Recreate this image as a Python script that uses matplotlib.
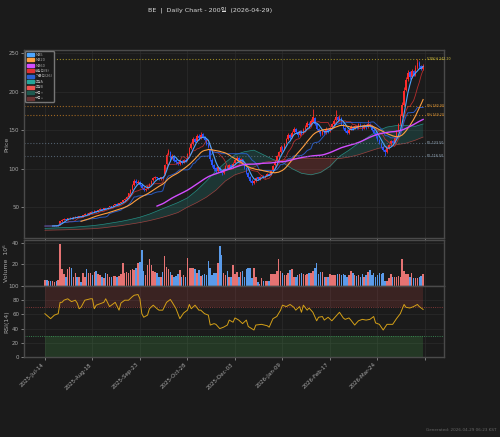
import numpy as np
import pandas as pd
import matplotlib
matplotlib.use("Agg")
import matplotlib.pyplot as plt
from matplotlib.patches import Patch

# Latin text in DejaVu, Korean falls back to Noto CJK
plt.rcParams['font.family'] = ['DejaVu Sans', 'Noto Sans CJK KR']

ticker = "BE"
asof = "2026-04-29"
date_labels = ['2025-Jul-14', '2025-Aug-18', '2025-Sep-23', '2025-Oct-28',
               '2025-Dec-03', '2026-Jan-09', '2026-Feb-17', '2026-Mar-24']

# daily OHLC, 200 sessions
opens = [
    25.3, 25.7, 25.3, 25.9, 25.3, 25.8, 26.2, 25.8, 27.2, 31.8,
    33.4, 34.6, 33.9, 35.7, 36.3, 35.2, 36.9, 37.6, 37.0, 38.3,
    37.8, 39.6, 41.3, 40.6, 42.9, 44.3, 43.4, 45.1, 44.5, 46.3,
    47.6, 46.9, 48.4, 47.8, 49.6, 51.3, 50.5, 52.7, 53.9, 53.1,
    55.3, 56.5, 59.1, 60.9, 63.8, 68.1, 72.8, 78.9, 84.6, 81.2,
    82.6, 78.8, 74.9, 72.3, 74.1, 77.2, 80.6, 84.8, 87.5, 88.8,
    87.6, 86.4, 89.1, 92.5, 105.8, 119.1, 121.4, 113.8, 116.5, 110.6,
    108.7, 106.6, 110.1, 107.8, 111.5, 111.0, 119.2, 127.1, 132.4, 138.9,
    135.8, 142.9, 139.8, 144.5, 141.0, 137.6, 132.9, 124.5, 110.8, 104.2,
    100.2, 97.5, 101.2, 97.1, 94.8, 99.9, 103.4, 101.0, 104.8, 102.4,
    106.8, 111.2, 113.9, 109.1, 112.1, 105.4, 101.0, 94.3, 89.5, 84.6,
    81.8, 83.9, 88.6, 86.3, 89.9, 91.0, 88.7, 91.0, 93.6, 92.4,
    97.9, 104.1, 109.6, 116.8, 121.9, 128.1, 125.0, 132.3, 138.5, 143.2,
    140.5, 147.1, 151.0, 147.6, 143.8, 149.2, 145.5, 150.9, 154.6, 158.5,
    156.5, 160.8, 166.1, 158.0, 151.5, 148.4, 144.9, 149.5, 146.3, 151.6,
    148.8, 153.5, 157.9, 162.6, 167.1, 163.4, 165.6, 158.1, 152.4, 149.5,
    146.5, 150.8, 154.4, 152.0, 155.9, 153.3, 157.2, 154.6, 152.5, 156.3,
    153.9, 158.5, 155.2, 150.1, 146.4, 141.5, 137.8, 133.4, 128.3, 124.4,
    122.1, 126.8, 131.5, 136.1, 133.6, 140.2, 148.6, 157.9, 168.5, 183.2,
    202.1, 216.2, 224.8, 218.9, 226.8, 221.5, 230.9, 237.1, 233.8, 229.9,
]
highs = [
    26.0, 25.9, 26.2, 26.0, 26.1, 26.5, 26.3, 26.7, 32.6, 34.1,
    35.3, 35.0, 36.2, 37.0, 36.6, 37.4, 38.1, 37.9, 38.9, 38.6,
    40.1, 42.0, 41.8, 43.5, 44.9, 44.6, 45.8, 45.6, 46.9, 48.4,
    48.1, 49.0, 48.9, 50.1, 52.0, 51.9, 53.4, 54.6, 54.8, 55.9,
    57.3, 59.8, 61.9, 64.6, 68.9, 73.8, 80.2, 86.5, 86.2, 84.8,
    83.4, 79.5, 75.8, 75.1, 77.8, 81.3, 85.6, 88.9, 90.2, 89.6,
    88.5, 89.8, 90.2, 106.3, 120.4, 126.1, 122.8, 119.2, 117.4, 112.3,
    110.2, 111.4, 111.3, 112.9, 113.2, 120.1, 128.4, 134.2, 141.6, 140.3,
    145.3, 144.8, 147.2, 146.3, 142.5, 139.2, 134.6, 126.1, 113.5, 106.3,
    101.8, 103.2, 102.6, 98.4, 101.3, 105.1, 104.6, 106.2, 106.3, 108.1,
    112.6, 115.9, 114.8, 114.2, 113.0, 106.9, 102.3, 95.8, 90.6, 86.1,
    85.2, 89.6, 89.3, 90.8, 92.4, 91.8, 91.6, 94.5, 94.8, 98.6,
    105.2, 110.8, 118.1, 123.4, 131.2, 129.5, 133.6, 140.1, 146.3, 144.8,
    148.6, 153.9, 152.4, 148.9, 150.7, 150.3, 152.8, 156.1, 161.5, 160.2,
    164.2, 177.2, 167.3, 159.4, 153.1, 150.2, 151.6, 150.4, 153.7, 152.8,
    154.6, 159.3, 164.1, 176.4, 168.5, 169.2, 166.8, 159.6, 154.1, 151.2,
    152.3, 156.1, 155.7, 157.2, 157.1, 159.3, 158.6, 156.4, 158.2, 157.4,
    163.5, 159.8, 156.3, 151.4, 147.6, 143.2, 139.1, 134.5, 129.6, 125.7,
    127.8, 132.6, 137.4, 137.2, 141.3, 150.1, 159.8, 171.4, 186.2, 205.6,
    219.4, 228.6, 226.1, 229.3, 228.2, 234.6, 242.2, 239.5, 235.1, 235.8,
]
lows = [
    25.0, 25.0, 25.1, 25.2, 25.1, 25.6, 25.5, 25.6, 27.0, 31.2,
    33.0, 33.4, 33.6, 35.2, 35.0, 35.0, 36.5, 36.5, 36.8, 37.2,
    37.5, 39.2, 40.1, 40.2, 42.5, 42.8, 43.1, 43.9, 44.2, 45.9,
    46.2, 46.5, 47.1, 47.4, 49.2, 49.8, 50.1, 52.3, 52.4, 52.8,
    54.9, 56.1, 58.4, 60.3, 63.1, 67.4, 72.1, 77.8, 80.4, 80.1,
    77.2, 73.6, 70.8, 71.5, 73.4, 76.5, 80.1, 84.1, 86.3, 86.2,
    85.1, 85.8, 86.4, 91.8, 104.2, 117.3, 111.6, 112.4, 108.6, 106.1,
    104.8, 105.2, 106.1, 106.9, 108.7, 110.2, 117.6, 125.8, 130.9, 133.1,
    134.6, 137.5, 138.6, 139.5, 135.9, 130.8, 126.5, 110.4, 101.8, 96.4,
    94.5, 95.8, 95.6, 91.7, 93.5, 98.6, 99.2, 99.8, 100.6, 101.3,
    105.9, 109.8, 107.6, 107.9, 104.6, 99.8, 93.2, 88.1, 82.6, 79.4,
    80.3, 83.1, 85.2, 85.6, 89.1, 87.6, 87.9, 90.2, 91.2, 92.0,
    97.2, 103.2, 108.7, 115.6, 120.8, 122.9, 124.1, 131.5, 137.4, 138.2,
    139.8, 145.8, 145.9, 141.6, 142.7, 143.8, 144.9, 149.6, 153.8, 154.3,
    155.6, 160.8, 156.9, 150.2, 146.5, 142.8, 143.6, 144.8, 145.5, 146.9,
    147.6, 152.4, 156.8, 161.5, 161.7, 162.3, 157.2, 150.9, 147.8, 145.3,
    145.2, 149.6, 150.2, 150.9, 151.8, 152.1, 153.5, 150.8, 151.4, 152.1,
    152.8, 154.1, 149.2, 144.8, 140.3, 136.1, 131.6, 126.9, 122.4, 116.5,
    120.9, 125.7, 130.8, 131.9, 132.8, 139.5, 147.3, 156.8, 167.2, 181.9,
    200.4, 213.8, 216.2, 217.5, 219.6, 220.8, 229.6, 231.2, 227.4, 228.3,
]
closes = [
    25.6, 25.2, 25.9, 25.4, 25.8, 26.1, 25.7, 26.3, 31.5, 33.2,
    34.5, 33.8, 35.6, 36.2, 35.4, 36.8, 37.5, 36.9, 38.2, 37.6,
    39.4, 41.2, 40.5, 42.8, 44.1, 43.2, 45.0, 44.3, 46.2, 47.5,
    46.8, 48.3, 47.6, 49.4, 51.2, 50.3, 52.6, 53.8, 52.9, 55.1,
    56.4, 58.9, 60.7, 63.5, 67.8, 72.4, 78.6, 84.1, 81.5, 82.9,
    78.5, 74.6, 72.1, 73.8, 76.9, 80.2, 84.5, 87.3, 88.6, 87.4,
    86.2, 88.9, 87.5, 104.6, 118.3, 122.7, 113.5, 116.8, 110.2, 108.4,
    106.3, 109.8, 107.5, 111.2, 110.4, 118.6, 126.3, 131.8, 138.5, 135.2,
    142.6, 139.4, 144.1, 141.3, 137.8, 132.5, 128.1, 112.3, 104.6, 99.8,
    97.2, 101.5, 96.8, 94.3, 99.6, 103.2, 100.8, 104.5, 102.1, 106.4,
    110.8, 113.6, 108.9, 112.4, 105.7, 101.3, 94.6, 89.8, 84.2, 81.5,
    83.6, 88.4, 86.1, 89.7, 91.2, 88.5, 90.8, 93.4, 92.1, 97.5,
    103.8, 109.2, 116.5, 121.3, 128.4, 124.7, 131.9, 138.2, 143.6, 140.1,
    146.8, 151.2, 147.3, 143.5, 148.9, 145.2, 150.6, 154.3, 158.7, 156.2,
    161.8, 166.4, 158.3, 151.7, 148.2, 144.6, 149.3, 146.1, 151.8, 148.5,
    153.2, 157.6, 162.4, 166.8, 163.1, 165.9, 158.4, 152.7, 149.3, 146.8,
    150.5, 154.2, 151.8, 155.6, 153.1, 157.4, 154.8, 152.3, 156.1, 153.6,
    158.2, 155.4, 150.3, 146.2, 141.8, 137.5, 133.2, 128.6, 124.1, 121.8,
    126.5, 131.2, 135.8, 133.4, 139.7, 148.3, 157.6, 168.2, 182.5, 201.3,
    215.6, 224.3, 218.7, 226.4, 221.2, 230.5, 236.8, 233.4, 229.7, 232.6,
]
# volume in millions
volumes = [
    6, 6, 5, 5, 5, 4, 5, 6, 39, 16,
    11, 8, 16, 18, 17, 8, 12, 8, 8, 4,
    12, 8, 16, 12, 12, 10, 13, 14, 11, 10,
    8, 7, 12, 11, 8, 8, 9, 9, 8, 9,
    11, 21, 12, 13, 12, 15, 16, 15, 17, 21,
    22, 33, 14, 10, 19, 25, 19, 14, 13, 12,
    8, 8, 13, 28, 18, 16, 13, 10, 8, 9,
    11, 15, 8, 10, 8, 26, 17, 17, 17, 16,
    12, 15, 9, 10, 11, 10, 23, 17, 10, 12,
    12, 21, 37, 29, 12, 10, 14, 8, 8, 19,
    11, 13, 8, 13, 14, 8, 16, 17, 17, 7,
    17, 8, 4, 2, 7, 5, 5, 5, 5, 11,
    11, 11, 14, 25, 14, 12, 10, 10, 12, 15,
    16, 8, 8, 10, 11, 12, 11, 10, 11, 12,
    12, 14, 17, 21, 11, 13, 13, 8, 8, 8,
    11, 10, 10, 10, 11, 11, 10, 11, 10, 8,
    10, 14, 12, 10, 9, 10, 8, 11, 8, 10,
    13, 15, 10, 12, 8, 10, 12, 11, 12, 5,
    5, 7, 11, 8, 8, 8, 9, 8, 25, 14,
    11, 11, 8, 12, 7, 7, 7, 8, 9, 11,
]

# ichimoku leading spans
cloud_bars = [0, 5, 10, 15, 20, 25, 30, 35, 40, 45, 50, 55, 60, 65, 70, 75, 80, 85, 90, 95,
              100, 105, 110, 115, 120, 125, 130, 135, 140, 145, 150, 155, 160, 165, 170, 175,
              180, 185, 190, 195, 199]
span_a = [22.5, 23.0, 23.5, 24.0, 25.0, 26.0, 27.5, 29.5, 31.5, 34.0, 37.0, 41.0, 46.0, 51.0,
          56.0, 62.0, 72.0, 84.0, 97.0, 108.0, 118.0, 122.0, 124.0, 118.0, 112.0, 108.0, 100.0,
          94.0, 92.0, 95.0, 103.0, 116.0, 124.0, 133.0, 141.0, 149.0, 154.0, 156.0, 156.0,
          155.0, 158.0]
span_b = [20.0, 20.3, 20.6, 21.0, 21.5, 22.0, 23.0, 24.5, 26.0, 28.0, 30.0, 32.5, 35.5, 39.0,
          43.0, 50.0, 56.0, 63.0, 72.0, 84.0, 92.0, 96.0, 102.0, 108.0, 110.0, 111.0, 113.0,
          113.0, 113.0, 113.0, 113.0, 113.0, 115.0, 118.0, 122.0, 126.0, 129.0, 131.0, 133.0,
          137.0, 141.0]

# RSI(14)
rsi_bars = [0, 3, 5, 7, 8, 9, 10, 12, 14, 16, 17, 18, 19, 21, 24, 25, 26, 27, 29, 31, 32, 34,
            36, 37, 39, 40, 42, 44, 46, 47, 49, 50, 51, 52, 54, 55, 57, 59, 60, 62, 64, 66, 67,
            69, 71, 73, 75, 76, 77, 79, 81, 82, 84, 86, 87, 89, 90, 92, 94, 96, 97, 99, 100,
            102, 104, 106, 107, 110, 111, 114, 117, 118, 120, 122, 124, 125, 127, 129, 131,
            132, 134, 135, 136, 138, 139, 141, 143, 144, 146, 147, 149, 151, 153, 155, 157,
            158, 160, 161, 163, 165, 167, 169, 171, 173, 174, 176, 178, 180, 182, 183, 185,
            187, 189, 190, 192, 194, 196, 197, 199]
rsi_values = [61, 54, 59, 61, 77, 77, 80, 82, 78, 80, 76, 68, 70, 80, 82, 82, 68, 73, 75, 77,
              82, 71, 75, 77, 66, 76, 80, 80, 85, 87, 88, 82, 61, 56, 59, 68, 73, 68, 66, 66,
              77, 81, 77, 68, 54, 62, 66, 74, 68, 73, 66, 66, 61, 59, 45, 47, 46, 40, 42, 45,
              52, 49, 55, 52, 47, 52, 43, 38, 45, 46, 44, 42, 54, 57, 66, 73, 71, 74, 70, 66,
              71, 63, 73, 66, 69, 63, 51, 56, 57, 52, 56, 51, 57, 63, 55, 53, 55, 52, 45, 51,
              53, 52, 53, 57, 48, 46, 38, 46, 46, 46, 54, 61, 74, 70, 69, 71, 74, 71, 67]

# key levels shown on the price panel
level_values = [242.6, 181.2, 169.5, 133.5, 117.0]
level_texts = ['52W H 242.20', 'PH 180.90', 'PH 169.20', 'PL 133.50', 'PL 116.50']

BG = '#1b1b1b'
UP = '#ff2a2a'
DOWN = '#2a55ff'
GRID = '#2c2c2c'
TXT = '#a8a8a8'

df = pd.DataFrame({'open': opens, 'high': highs, 'low': lows, 'close': closes, 'volume': volumes})
x = np.arange(len(df))
up = (df['close'] >= df['open']).values

ma5 = df['close'].rolling(5).mean()
ma20 = df['close'].rolling(20).mean()
ma60 = df['close'].rolling(60).mean()
tenkan = (df['high'].rolling(9, min_periods=1).max() + df['low'].rolling(9, min_periods=1).min()) / 2
kijun = (df['high'].rolling(26, min_periods=1).max() + df['low'].rolling(26, min_periods=1).min()) / 2

fig = plt.figure(figsize=(5, 4.37), dpi=100, facecolor=BG)
ax = fig.add_axes([0.048, 0.4554, 0.84, 0.4302])
ax_vol = fig.add_axes([0.048, 0.3455, 0.84, 0.1053], sharex=ax)
ax_rsi = fig.add_axes([0.048, 0.1831, 0.84, 0.1624], sharex=ax)

for a in (ax, ax_vol, ax_rsi):
    a.set_facecolor(BG)
    for s in a.spines.values():
        s.set_color('#4a4a4a')
        s.set_linewidth(1.0)
    a.tick_params(colors=TXT, labelsize=4, length=2, width=0.5, pad=1.5)
    a.grid(True, color=GRID, linewidth=0.5)
    a.set_axisbelow(True)

# --- price panel ---
sa = np.array(span_a)
sb = np.array(span_b)
ax.fill_between(cloud_bars, sa, sb, where=sa >= sb, interpolate=True, color='#26a69a', alpha=0.2, lw=0)
ax.fill_between(cloud_bars, sa, sb, where=sa < sb, interpolate=True, color='#ef5350', alpha=0.2, lw=0)
ax.plot(cloud_bars, span_a, color='#26a69a', lw=0.5, alpha=0.8)
ax.plot(cloud_bars, span_b, color='#ef5350', lw=0.5, alpha=0.6)

colors = np.where(up, UP, DOWN)
ax.vlines(x, df['low'], df['high'], colors=colors, linewidth=0.6)
ax.bar(x, (df['close'] - df['open']).abs(), bottom=np.minimum(df['open'], df['close']),
       width=0.8, color=colors, linewidth=0)

ax.plot(x, tenkan, color='#d03030', lw=0.6, alpha=0.85)
ax.plot(x, kijun, color='#2a5fd0', lw=0.7, alpha=0.9)
ax.plot(x, ma5, color='#4da6ff', lw=0.8)
ax.plot(x, ma20, color='#ff9f40', lw=0.8)
ax.plot(x, ma60, color='#d24dff', lw=1.0)

level_colors = ['#b8a428', '#c07a25', '#c07a25', '#5f7080', '#5f7080']
text_colors = ['#d8c440', '#e09a3a', '#e09a3a', '#9fb2c2', '#9fb2c2']
for lv, txt, lc, tc in zip(level_values, level_texts, level_colors, text_colors):
    ax.axhline(lv, color=lc, ls=':', lw=0.8, alpha=0.8)
    ax.text(x[-1] + 2, lv, txt, color=tc, fontsize=2.3, va='center', ha='left')

ax.set_ylim(10, 254)
ax.set_yticks([50, 100, 150, 200, 250])
ax.set_ylabel('Price', color=TXT, fontsize=4.5)
plt.setp(ax.get_xticklabels(), visible=False)

handles = [
    Patch(color='#4da6ff', label='MA5'),
    Patch(color='#ff9f40', label='MA20'),
    Patch(color='#d24dff', label='MA60'),
    Patch(color='#e03030', label='전환선(9)'),
    Patch(color='#2a5fd0', label='기준선(26)'),
    Patch(color='#26a69a', label='선행A'),
    Patch(color='#ef5350', label='선행B'),
    Patch(color='#1f5a50', label='구름↑'),
    Patch(color='#6a3434', label='구름↓'),
]
leg = ax.legend(handles=handles, loc='upper left', fontsize=2.5, handlelength=2.0, handleheight=0.9,
                handletextpad=0.5, borderpad=0.45, labelspacing=0.42, borderaxespad=0.3,
                facecolor=BG, edgecolor='#777777', framealpha=1)
for t in leg.get_texts():
    t.set_color(TXT)

# --- volume panel ---
vol_colors = np.where(up, '#e57373', '#5a9bea')
ax_vol.bar(x, df['volume'], width=0.8, color=vol_colors, linewidth=0)
ax_vol.set_ylim(0, 42.5)
ax_vol.set_yticks([20, 40])
ax_vol.set_ylabel('Volume  10⁶', color=TXT, fontsize=4.5)
plt.setp(ax_vol.get_xticklabels(), visible=False)

# --- RSI panel ---
ax_rsi.fill_between([x[0], x[-1]], 70, 100, color='#ef5350', alpha=0.15, lw=0)
ax_rsi.fill_between([x[0], x[-1]], 0, 30, color='#4caf50', alpha=0.2, lw=0)
ax_rsi.axhline(70, color='#a04040', ls=':', lw=0.6)
ax_rsi.axhline(30, color='#40a060', ls=':', lw=0.6)
ax_rsi.plot(rsi_bars, rsi_values, color='#d4a017', lw=0.7)
ax_rsi.set_ylim(0, 100)
ax_rsi.set_yticks([0, 20, 40, 60, 80, 100])
ax_rsi.set_ylabel('RSI(14)', color=TXT, fontsize=4.5)

for a in (ax, ax_vol, ax_rsi):
    a.yaxis.set_label_coords(-0.036, 0.5)

ax_rsi.set_xlim(-11, 210)
ax_rsi.set_xticks(np.arange(0, 201, 25))
ax_rsi.set_xticklabels(date_labels + [''], rotation=45, ha='right', fontsize=4)

fig.text(0.42, 0.985, f'{ticker}  |  Daily Chart - 200일  ({asof})', color='#d8d8d8',
         fontsize=4.6, ha='center', va='top')
fig.text(0.994, 0.012, 'Generated: 2026-04-29 06:23 KST', color='#666666', fontsize=3,
         ha='right', va='bottom')

fig.savefig('out.png', dpi=100, facecolor=fig.get_facecolor())
